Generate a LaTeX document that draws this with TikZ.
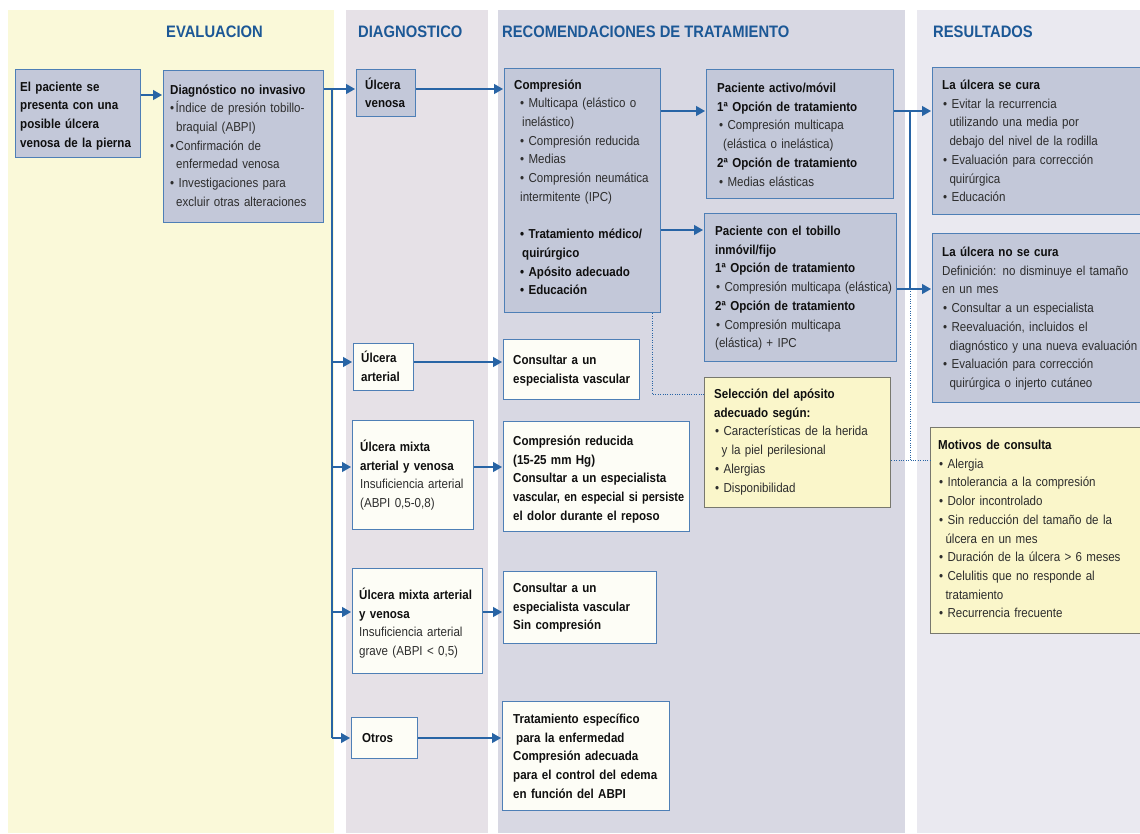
\documentclass[tikz,border=0pt]{standalone}
\usepackage{fontspec}
\setmainfont{Liberation Sans}[FakeStretch=0.89]
\newfontfamily\condf{Liberation Sans}[FakeStretch=0.84]
\usetikzlibrary{arrows.meta,calc}
\definecolor{colA}{RGB}{250,249,217}
\definecolor{colB}{RGB}{230,225,231}
\definecolor{colC}{RGB}{216,216,227}
\definecolor{colD}{RGB}{234,233,240}
\definecolor{boxblue}{RGB}{195,200,217}
\definecolor{boxwhite}{RGB}{253,253,246}
\definecolor{boxyellow}{RGB}{250,246,202}
\definecolor{bord}{RGB}{78,127,182}
\definecolor{ybord}{RGB}{120,120,110}
\definecolor{lineblue}{RGB}{40,100,165}
\definecolor{hdr}{RGB}{28,88,150}
\definecolor{txtg}{RGB}{45,45,45}
\definecolor{txtk}{RGB}{15,15,15}
\newcommand{\fs}{\fontsize{13}{18.7}\selectfont}
\newcommand{\hb}[1]{{\bfseries\color{txtk}#1}}
\newcommand{\ind}{\hspace*{7.3pt}}
\newcommand{\bulx}{\textbullet\ }
\begin{document}
\begin{tikzpicture}[x=1pt,y=-1pt,
  bb/.style={draw=bord, line width=1.3pt, fill=boxblue, anchor=north west, inner sep=0pt},
  wb/.style={bb, fill=boxwhite},
  yb/.style={bb, draw=ybord, fill=boxyellow},
  tx/.style={anchor=base west, inner sep=0pt, text width=300pt, align=left, font=\fs, text=txtg},
  tb/.style={tx, font=\fs\bfseries, text=txtk},
  hd/.style={anchor=base west, inner sep=0pt, font=\fontsize{16.6}{16.6}\selectfont\bfseries, text=hdr},
  arr/.style={draw=lineblue, line width=1.2pt, -{Triangle[length=9pt,width=10pt]}, shorten >=1pt},
  ln/.style={draw=lineblue, line width=1.2pt},
  dt/.style={draw=lineblue, line width=1pt, dash pattern=on 1pt off 1.4pt}]
\useasboundingbox (0,0) rectangle (1140,833);
\clip (0,0) rectangle (1140,833);
\fill[white] (0,0) rectangle (1140,833);
% column backgrounds
\fill[colA] (8,10) rectangle (334,833);
\fill[colB] (346,10) rectangle (488,833);
\fill[colC] (498,10) rectangle (905,833);
\fill[colD] (917,10) rectangle (1140,833);
% headers
\node[hd] (h1) at (166,37) {EVALUACION};
\node[hd] (h2) at (358,37) {DIAGNOSTICO};
\node[hd] (h3) at (502,37) {RECOMENDACIONES DE TRATAMIENTO};
\node[hd] (h4) at (933,37) {RESULTADOS};
% boxes
\node[bb, minimum width=125pt, minimum height=88pt] (A) at (15,69) {};
\node[bb, minimum width=160pt, minimum height=152pt] (B) at (163,70) {};
\node[bb, minimum width=59pt, minimum height=47pt] (D1) at (356,69) {};
\node[wb, minimum width=60pt, minimum height=47pt] (D2) at (353,343) {};
\node[wb, minimum width=121pt, minimum height=109pt] (D3) at (352,420) {};
\node[wb, minimum width=130pt, minimum height=105pt] (D4) at (352,568) {};
\node[wb, minimum width=66pt, minimum height=41pt] (D5) at (351,717) {};
\node[bb, minimum width=156pt, minimum height=244pt] (T1) at (504,68) {};
\node[bb, minimum width=187pt, minimum height=129pt] (T2) at (706,69) {};
\node[bb, minimum width=192pt, minimum height=148pt] (T3) at (704,213) {};
\node[yb, minimum width=186pt, minimum height=130pt] (T4) at (704,377) {};
\node[wb, minimum width=136pt, minimum height=60pt] (T5) at (503,339) {};
\node[wb, minimum width=186pt, minimum height=110pt] (T6) at (503,421) {};
\node[wb, minimum width=153pt, minimum height=72pt] (T7) at (503,571) {};
\node[wb, minimum width=167pt, minimum height=109pt] (T8) at (502,701) {};
\node[bb, minimum width=228pt, minimum height=147pt] (R1) at (932,67) {};
\node[bb, minimum width=228pt, minimum height=169pt] (R2) at (932,233) {};
\node[yb, minimum width=230pt, minimum height=206pt] (R3) at (930,427) {};
% texts
\node[tb] (At) at (20,91) {El paciente se\\presenta con una\\posible úlcera\\venosa de la pierna};
\node[tx] (Bt) at (170,94) {\hb{Diagnóstico no invasivo}\\
\textbullet\hspace{1.5pt}Índice de presión tobillo-\\
\hspace*{6pt}braquial (ABPI)\\
\textbullet\hspace{1.5pt}Confirmación de\\
\hspace*{6pt}enfermedad venosa\\
\textbullet\ Investigaciones para\\
\hspace*{6pt}excluir otras alteraciones};
\node[tb] (D1t) at (365,89) {Úlcera\\venosa};
\node[tb] (D2t) at (361,362.5) {Úlcera\\arterial};
\node[tx] (D3t) at (360,451.5) {\hb{Úlcera mixta}\\\hb{arterial y venosa}\\Insuficiencia arterial\\(ABPI 0,5-0,8)};
\node[tx] (D4t) at (359,599.5) {\hb{Úlcera mixta arterial}\\\hb{y venosa}\\Insuficiencia arterial\\grave (ABPI < 0,5)};
\node[tb] (D5t) at (362,742.5) {Otros};
\node[tx] (T1t) at (514,89) {\hb{Compresión}\\
\hspace*{6pt}\bulx Multicapa (elástico o\\
\hspace*{8pt}inelástico)\\
\hspace*{6pt}\bulx Compresión reducida\\
\hspace*{6pt}\bulx Medias\\
\hspace*{6pt}\bulx Compresión neumática\\
\hspace*{6pt}intermitente (IPC)\\[18.7pt]
\hb{\hspace*{6pt}\bulx Tratamiento médico/}\\
\hb{\hspace*{8pt}quirúrgico}\\
\hb{\hspace*{6pt}\bulx Apósito adecuado}\\
\hb{\hspace*{6pt}\bulx Educación}};
\node[tx] (T2t) at (717,92.5) {\hb{Paciente activo/móvil}\\
\hb{1ª Opción de tratamiento}\\
\hspace*{2pt}\bulx Compresión multicapa\\
\hspace*{6pt}(elástica o inelástica)\\
\hb{2ª Opción de tratamiento}\\
\hspace*{2pt}\bulx Medias elásticas};
\node[tx] (T3t) at (715,235.5) {\hb{Paciente con el tobillo}\\
\hb{inmóvil/fijo}\\
\hb{1ª Opción de tratamiento}\\
\hspace*{1pt}\bulx Compresión multicapa (elástica)\\
\hb{2ª Opción de tratamiento}\\
\hspace*{1pt}\bulx Compresión multicapa\\
(elástica) + IPC};
\node[tx] (T4t) at (714,398.5) {\hb{Selección del apósito}\\
\hb{adecuado según:}\\
\hspace*{1pt}\bulx Características de la herida\\
\ind y la piel perilesional\\
\hspace*{1pt}\bulx Alergias\\
\hspace*{1pt}\bulx Disponibilidad};
\node[tb] (T5t) at (513,364.5) {Consultar a un\\especialista vascular};
\node[tb] (T6t) at (513,445.5) {Compresión reducida\\(15-25 mm Hg)\\Consultar a un especialista\\{\condf vascular, en especial si persiste}\\el dolor durante el reposo};
\node[tb] (T7t) at (513,592.5) {Consultar a un\\especialista vascular\\Sin compresión};
\node[tb] (T8t) at (513,723.5) {Tratamiento específico\\\hspace*{3pt}para la enfermedad\\Compresión adecuada\\para el control del edema\\en función del ABPI};
\node[tx] (R1t) at (942,89.5) {\hb{La úlcera se cura}\\
\hspace*{1pt}\bulx Evitar la recurrencia\\
\ind utilizando una media por\\
\ind debajo del nivel de la rodilla\\
\hspace*{1pt}\bulx Evaluación para corrección\\
\ind quirúrgica\\
\hspace*{1pt}\bulx Educación};
\node[tx] (R2t) at (942,256.5) {\hb{La úlcera no se cura}\\
Definición: no disminuye el tamaño\\
en un mes\\
\hspace*{1pt}\bulx Consultar a un especialista\\
\hspace*{1pt}\bulx Reevaluación, incluidos el\\
\ind diagnóstico y una nueva evaluación\\
\hspace*{1pt}\bulx Evaluación para corrección\\
\ind quirúrgica o injerto cutáneo};
\node[tx] (R3t) at (938,449.5) {\hb{Motivos de consulta}\\
\hspace*{1pt}\bulx Alergia\\
\hspace*{1pt}\bulx Intolerancia a la compresión\\
\hspace*{1pt}\bulx Dolor incontrolado\\
\hspace*{1pt}\bulx Sin reducción del tamaño de la\\
\ind úlcera en un mes\\
\hspace*{1pt}\bulx Duración de la úlcera > 6 meses\\
\hspace*{1pt}\bulx Celulitis que no responde al\\
\ind tratamiento\\
\hspace*{1pt}\bulx Recurrencia frecuente};
% helper coordinates
\coordinate (yAB) at (0,95);
\coordinate (y1) at (0,89);
\coordinate (y2) at (0,362);
\coordinate (y3) at (0,467);
\coordinate (y4) at (0,612);
\coordinate (y5) at (0,738);
\coordinate (yT2) at (0,111);
\coordinate (yT3) at (0,230);
\coordinate (yR2) at (0,289);
\coordinate (yD1) at (0,394);
\coordinate (yD2) at (0,460);
\coordinate (trk) at (332,0);
\coordinate (bus) at (910,0);
\coordinate (dtx) at (652,0);
% connectors
\draw[arr] (A.east |- yAB) -- (B.west |- yAB);
\draw[arr] (B.east |- y1) -- (D1.west |- y1);
\draw[ln] (trk |- y1) -- (trk |- y5);
\draw[arr] (trk |- y2) -- (D2.west |- y2);
\draw[arr] (trk |- y3) -- (D3.west |- y3);
\draw[arr] (trk |- y4) -- (D4.west |- y4);
\draw[arr] (trk |- y5) -- (D5.west |- y5);
\draw[arr] (D1.east |- y1) -- (T1.west |- y1);
\draw[arr] (D2.east |- y2) -- (T5.west |- y2);
\draw[arr] (D3.east |- y3) -- (T6.west |- y3);
\draw[arr] (D4.east |- y4) -- (T7.west |- y4);
\draw[arr] (D5.east |- y5) -- (T8.west |- y5);
\draw[arr] (T1.east |- yT2) -- (T2.west |- yT2);
\draw[arr] (T1.east |- yT3) -- (T3.west |- yT3);
\draw[arr] (T2.east |- yT2) -- (R1.west |- yT2);
\draw[arr] (T3.east |- yR2) -- (R2.west |- yR2);
\draw[ln] (bus |- yT2) -- (bus |- yR2);
\draw[dt] (bus |- yR2) -- (bus |- yD2);
\draw[dt] (T4.east |- yD2) -- (R3.west |- yD2);
\draw[dt] (T1.south -| dtx) -- (dtx |- yD1) -- (T4.west |- yD1);
\end{tikzpicture}
\end{document}
